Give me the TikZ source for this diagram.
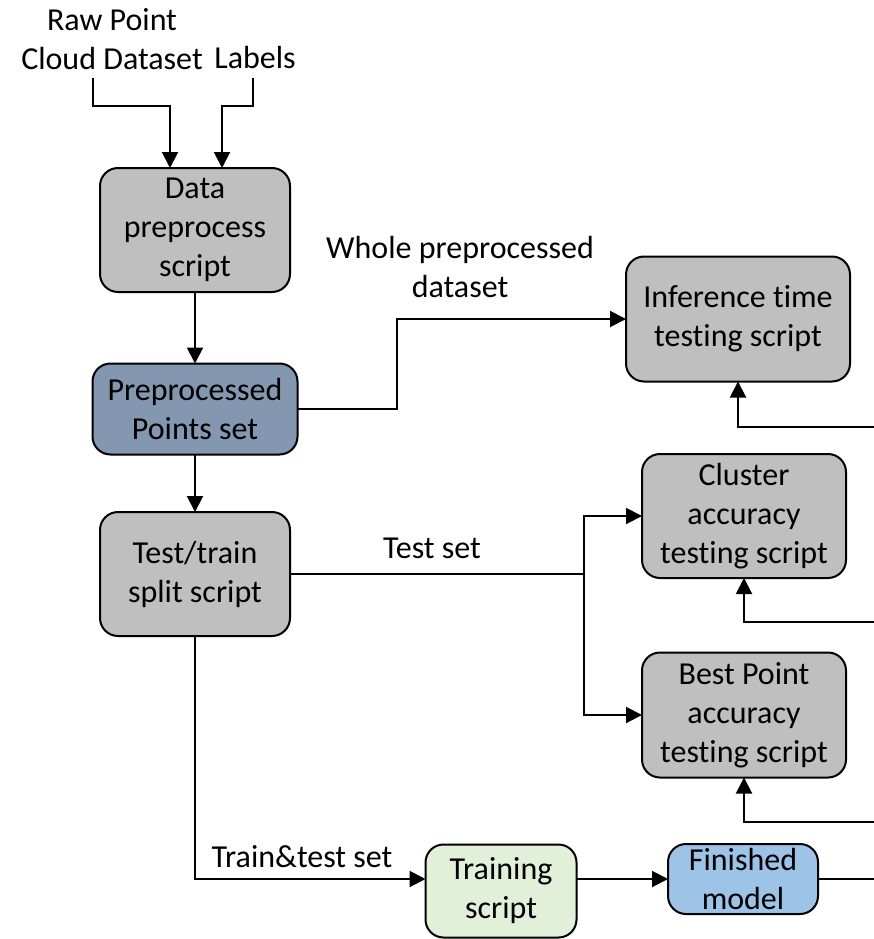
\documentclass[tikz,border=0pt]{standalone}
\usepackage{fontspec}
\setmainfont{Carlito}[Ligatures=NoCommon]
\usetikzlibrary{arrows.meta,calc}
\definecolor{setfill}{HTML}{8497B0}
\definecolor{trainfill}{HTML}{E2F0D9}
\definecolor{modelfill}{HTML}{9DC3E6}
\begin{document}
\begin{tikzpicture}[x=1pt,y=-1pt,
  txt/.style={font=\fontsize{32}{39}\selectfont, align=center, inner sep=0pt},
  box/.style={txt, draw=black, line width=2pt, rounded corners=18pt, outer sep=0pt},
  scriptbox/.style={box, fill=black!25},
  setbox/.style={box, fill=setfill},
  trainbox/.style={box, fill=trainfill},
  modelbox/.style={box, fill=modelfill},
  ln/.style={line width=2pt},
  arr/.style={ln, -{Triangle[length=16pt,width=16pt]}}
]
\useasboundingbox (0,0) rectangle (874,939);

% inputs
\node[txt] (raw) at (112,39) {Raw Point\\Cloud Dataset};
\node[txt] (labels) at (255,58) {Labels};
\coordinate (rawsrc) at (93,78);
\coordinate (lblsrc) at (253,78);

% pipeline boxes
\node[scriptbox, minimum width=190, minimum height=124] (data) at (195,230) {Data\\preprocess\\script};
\node[setbox, minimum width=205, minimum height=91] (prep) at (195,409) {Preprocessed\\Points set};
\node[scriptbox, minimum width=190, minimum height=124] (split) at (195,574) {Test/train\\split script};
\node[scriptbox, minimum width=224, minimum height=125] (inf) at (738,319) {Inference time\\testing script};
\node[scriptbox, minimum width=204, minimum height=124] (clu) at (744,516) {Cluster\\accuracy\\testing script};
\node[scriptbox, minimum width=204, minimum height=125] (best) at (744,715) {Best Point\\accuracy\\testing script};
\node[trainbox, minimum width=151, minimum height=93] (train) at (501,891) {Training\\script};
\node[modelbox, minimum width=150, minimum height=70] (fin) at (743,879) {Finished\\model};

% edge labels
\node[txt] (wholelbl) at (460,267) {Whole preprocessed\\dataset};
\node[txt] (testlbl) at (432,548) {Test set};
\node[txt] (trainlbl) at (302,857) {Train\&test set};

% loose ends leaving on the right
\coordinate (out1) at (874,427);
\coordinate (out2) at (874,622);
\coordinate (out3) at (874,822);
\coordinate (out4) at (874,879);
\coordinate (fork) at (584,574);

% connectors
\draw[arr] (rawsrc) -- ++(0,28) -| ([xshift=-25pt]data.north);
\draw[arr] (lblsrc) -- ++(0,28) -| ([xshift=27pt]data.north);
\draw[arr] (data) -- (prep);
\draw[arr] (prep.east) -- ++(99,0) |- (inf.west);
\draw[arr] (prep) -- (split);
\draw[ln] (split.east) -- (fork);
\draw[arr] (fork) |- (clu.west);
\draw[arr] (fork) |- (best.west);
\draw[arr] (split.south) |- (train.west |- fin);
\draw[arr] (train.east |- fin) -- (fin.west);
\draw[ln] (fin.east) -- (out4);
\draw[arr] (out1) -| (inf.south);
\draw[arr] (out2) -| (clu.south);
\draw[arr] (out3) -| (best.south);
\end{tikzpicture}
\end{document}
